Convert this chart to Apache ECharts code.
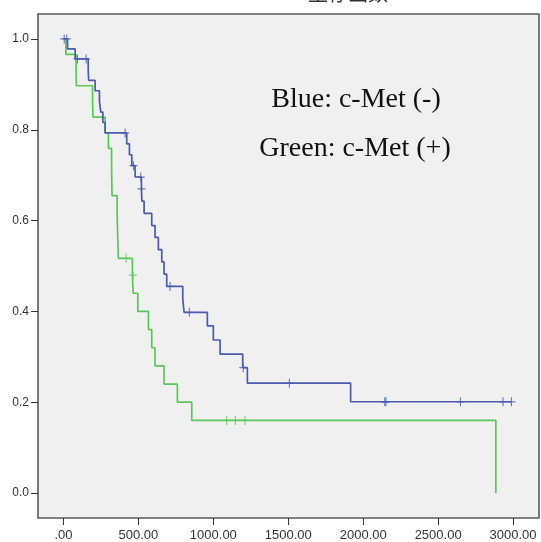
<!DOCTYPE html>
<html>
<head>
<meta charset="utf-8">
<title>生存函数</title>
<script src="https://cdn.jsdelivr.net/npm/echarts@6/dist/echarts.min.js"></script>
<style>
  html, body { margin: 0; padding: 0; background: #fff; }
  #chart { width: 541px; height: 542px; }
</style>
</head>
<body>
<div id="chart"></div>
<script>
// Kaplan-Meier steps: [time, survival]
var blueSteps = [
  [0, 1.0], [27, 0.978], [78, 0.956], [165, 0.932], [168, 0.909], [211, 0.886],
  [240, 0.862], [249, 0.839], [263, 0.816], [278, 0.793], [422, 0.769], [440, 0.745],
  [456, 0.721], [478, 0.696], [520, 0.670], [523, 0.643], [538, 0.616], [589, 0.589],
  [611, 0.563], [633, 0.536], [656, 0.509], [671, 0.482], [689, 0.455], [796, 0.427],
  [805, 0.398], [960, 0.368], [1000, 0.337], [1045, 0.306], [1196, 0.276], [1227, 0.242],
  [1916, 0.201], [2989, 0.201]
];
var blueCensor = [
  [5, 1.0], [22, 1.0], [93, 0.956], [151, 0.956], [411, 0.793], [467, 0.721],
  [516, 0.696], [521, 0.670], [711, 0.455], [840, 0.398], [1200, 0.276], [1507, 0.242],
  [2144, 0.201], [2152, 0.201], [2649, 0.201], [2933, 0.201], [2989, 0.201]
];
var greenSteps = [
  [0, 1.0], [16, 0.966], [84, 0.931], [86, 0.897], [194, 0.862], [197, 0.828],
  [278, 0.793], [300, 0.759], [321, 0.724], [322, 0.690], [324, 0.655], [358, 0.621],
  [360, 0.586], [363, 0.552], [366, 0.517], [460, 0.480], [465, 0.440], [496, 0.400],
  [567, 0.360], [589, 0.320], [611, 0.280], [671, 0.240], [760, 0.200], [856, 0.160],
  [2885, 0.0]
];
var greenCensor = [
  [418, 0.517], [463, 0.480], [1089, 0.16], [1147, 0.16], [1211, 0.16]
];
var xTicks = [0, 500, 1000, 1500, 2000, 2500, 3000];
var yTicks = [0, 0.2, 0.4, 0.6, 0.8, 1.0];

var blue = '#4a5aad';
var green = '#5cc65c';
var plus = 'path://M0,4.3H10V5.7H0Z M4.3,0H5.7V10H4.3Z';

var chart = echarts.init(document.getElementById('chart'));
chart.setOption({
  animation: false,
  backgroundColor: '#fff',
  grid: {
    left: 38, top: 14, right: 2, bottom: 24,
    show: true,
    backgroundColor: '#f0f0f0',
    borderColor: '#5a5a5a',
    borderWidth: 1.6
  },
  graphic: [
    { type: 'text', x: 348, y: -17,
      style: { text: '生存函数', font: '20px "Noto Sans CJK SC"', fill: '#333', textAlign: 'center' } },
    { type: 'text', x: 356, y: 100,
      style: { text: 'Blue: c-Met (-)', font: '28px "Liberation Serif"', fill: '#111',
               textAlign: 'center', textVerticalAlign: 'middle' } },
    { type: 'text', x: 355, y: 149,
      style: { text: 'Green: c-Met (+)', font: '28px "Liberation Serif"', fill: '#111',
               textAlign: 'center', textVerticalAlign: 'middle' } }
  ],
  xAxis: {
    type: 'value',
    min: -170, max: 3173,
    splitLine: { show: false },
    axisLine: { show: false, onZero: false },
    axisTick: { show: true, customValues: xTicks, length: 7, lineStyle: { color: '#333' } },
    axisLabel: {
      customValues: xTicks,
      margin: 11,
      color: '#333',
      fontFamily: 'Liberation Sans',
      fontSize: 13,
      formatter: function (v) { return v === 0 ? '.00' : v.toFixed(2); }
    }
  },
  yAxis: {
    type: 'value',
    min: -0.055, max: 1.055,
    splitLine: { show: false },
    axisLine: { show: false, onZero: false },
    axisTick: { show: true, customValues: yTicks, length: 7, lineStyle: { color: '#333' } },
    axisLabel: {
      customValues: yTicks,
      margin: 9,
      color: '#333',
      fontFamily: 'Liberation Sans',
      fontSize: 12,
      formatter: function (v) { return v.toFixed(1); }
    }
  },
  series: [
    { type: 'line', step: 'end', data: greenSteps, showSymbol: false,
      lineStyle: { color: green, width: 1.7 } },
    { type: 'line', step: 'end', data: blueSteps, showSymbol: false,
      lineStyle: { color: blue, width: 1.7 } },
    { type: 'scatter', data: greenCensor, symbol: plus, symbolSize: [8, 9],
      itemStyle: { color: green } },
    { type: 'scatter', data: blueCensor, symbol: plus, symbolSize: [8, 9],
      itemStyle: { color: blue } }
  ]
});
</script>
</body>
</html>
